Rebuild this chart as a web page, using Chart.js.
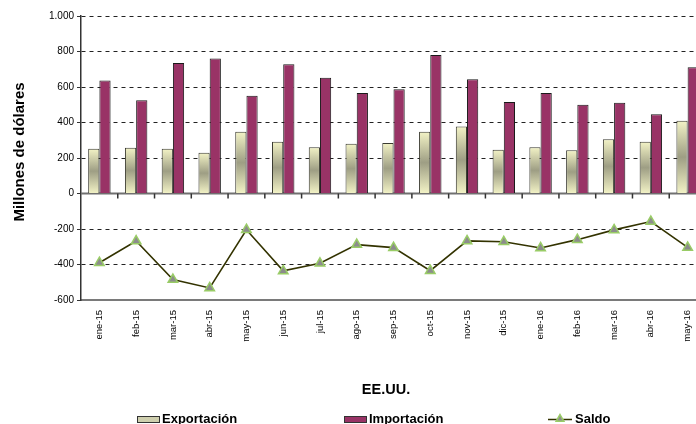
<!DOCTYPE html>
<html>
<head>
<meta charset="utf-8">
<script src="https://cdn.jsdelivr.net/npm/chart.js"></script>
<style>
html, body { margin: 0; padding: 0; overflow: hidden; background: #fff; }
</style>
</head>
<body>
<canvas id="grafico" width="720" height="424"></canvas>
<script>
var meses = ['ene-15', 'feb-15', 'mar-15', 'abr-15', 'may-15', 'jun-15', 'jul-15', 'ago-15', 'sep-15',
             'oct-15', 'nov-15', 'dic-15', 'ene-16', 'feb-16', 'mar-16', 'abr-16', 'may-16'];
var exportacion = [252, 258, 252, 229, 348, 291, 261, 280, 284, 348, 378, 246, 261, 243, 306, 291, 410];
var importacion = [637, 525, 735, 761, 551, 728, 652, 566, 588, 780, 643, 515, 566, 500, 511, 447, 711];
var saldo = [-390, -268, -485, -532, -204, -436, -393, -288, -305, -435, -267, -272, -307, -260, -205, -158, -304];
var ejeY = {min: -600, max: 1000, paso: 200};

var fuente = "'Liberation Sans', Arial, sans-serif";

function miles(v) {
    return String(v).replace(/\B(?=(\d{3})+(?!\d))/g, '.');
}

// relleno degradado de las barras de exportacion (claro - oscuro - claro)
function degradado(context) {
    if (context.type !== 'data' || !context.chart.chartArea) return '#cfcfae';
    var y = context.chart.scales.y;
    var arriba = y.getPixelForValue(context.raw);
    var base = y.getPixelForValue(0);
    var g = context.chart.ctx.createLinearGradient(0, arriba, 0, base);
    g.addColorStop(0, '#f3f3c6');
    g.addColorStop(0.5, '#9e9e84');
    g.addColorStop(1, '#f3f3c6');
    return g;
}

var extras = {
    id: 'extras',
    beforeDatasetsDraw: function(chart) {
        var ctx = chart.ctx, a = chart.chartArea, x = chart.scales.x, y = chart.scales.y;
        var y0 = y.getPixelForValue(0);
        ctx.save();
        ctx.strokeStyle = '#707070';
        ctx.lineWidth = 2;
        ctx.beginPath();
        ctx.moveTo(a.left, y0);
        ctx.lineTo(a.right, y0);
        ctx.stroke();
        var medio = (x.getPixelForValue(1) - x.getPixelForValue(0)) / 2;
        ctx.strokeStyle = '#333';
        ctx.lineWidth = 1.5;
        ctx.beginPath();
        for (var i = 0; i < meses.length; i++) {
            var px = x.getPixelForValue(i) + medio;
            ctx.moveTo(px, y0);
            ctx.lineTo(px, y0 + 5);
        }
        ctx.stroke();
        ctx.restore();
    },
    afterDraw: function(chart) {
        var ctx = chart.ctx;
        ctx.save();
        ctx.fillStyle = '#000';
        ctx.textBaseline = 'middle';

        // titulo del eje y
        ctx.save();
        ctx.translate(20, 152);
        ctx.rotate(-Math.PI / 2);
        ctx.textAlign = 'center';
        ctx.font = 'bold 15px ' + fuente;
        ctx.fillText('Millones de dólares', 0, 0);
        ctx.restore();

        ctx.textAlign = 'center';
        ctx.font = 'bold 14.5px ' + fuente;
        ctx.fillText('EE.UU.', 386, 390);

        // leyenda
        ctx.textAlign = 'left';
        ctx.font = 'bold 13px ' + fuente;
        ctx.lineWidth = 1;
        ctx.strokeStyle = '#333';
        ctx.fillStyle = '#cfcfae';
        ctx.fillRect(137.5, 416.5, 22, 6);
        ctx.strokeRect(137.5, 416.5, 22, 6);
        ctx.fillStyle = '#993366';
        ctx.fillRect(344.5, 416.5, 22, 6);
        ctx.strokeRect(344.5, 416.5, 22, 6);
        ctx.fillStyle = '#000';
        ctx.fillText(chart.data.datasets[0].label, 162, 419.5);
        ctx.fillText(chart.data.datasets[1].label, 369, 419.5);

        ctx.strokeStyle = '#333300';
        ctx.lineWidth = 1.5;
        ctx.beginPath();
        ctx.moveTo(548, 419.5);
        ctx.lineTo(572, 419.5);
        ctx.stroke();
        ctx.fillStyle = '#8c8c8c';
        ctx.strokeStyle = '#99cc66';
        Chart.helpers.drawPoint(ctx, {pointStyle: 'triangle', radius: 4.5, rotation: 0, borderWidth: 1.2}, 560, 419);
        ctx.fillStyle = '#000';
        ctx.fillText(chart.data.datasets[2].label, 575, 419.5);
        ctx.restore();
    }
};

new Chart(document.getElementById('grafico'), {
    data: {
        labels: meses,
        datasets: [{
            type: 'bar',
            label: 'Exportación',
            data: exportacion,
            backgroundColor: degradado,
            borderColor: '#3a3a30',
            borderWidth: 1,
            categoryPercentage: 0.61,
            barPercentage: 1,
            order: 2
        }, {
            type: 'bar',
            label: 'Importación',
            data: importacion,
            backgroundColor: '#993366',
            borderColor: '#1a1a1a',
            borderWidth: 1,
            categoryPercentage: 0.61,
            barPercentage: 1,
            order: 2
        }, {
            type: 'line',
            label: 'Saldo',
            data: saldo,
            borderColor: '#333300',
            borderWidth: 1.6,
            pointStyle: 'triangle',
            pointRadius: 5.5,
            pointBackgroundColor: '#8c8c8c',
            pointBorderColor: '#99cc66',
            pointBorderWidth: 1.5,
            tension: 0,
            fill: false,
            order: 1
        }]
    },
    options: {
        responsive: false,
        animation: false,
        devicePixelRatio: 1,
        layout: {padding: {top: 16, right: 14, bottom: 0, left: 0}},
        plugins: {
            legend: {display: false},
            title: {display: false},
            tooltip: {enabled: false}
        },
        scales: {
            x: {
                offset: true,
                grid: {display: false},
                border: {display: true, color: '#7a7a7a', width: 2},
                ticks: {
                    autoSkip: false,
                    minRotation: 90,
                    maxRotation: 90,
                    padding: 2,
                    color: '#000',
                    font: {family: fuente, size: 9.5}
                },
                afterFit: function(scale) { scale.height = 124; }
            },
            y: {
                min: ejeY.min,
                max: ejeY.max,
                grid: {
                    color: function(c) {
                        return (c.tick && (c.tick.value === 0 || c.tick.value === ejeY.min)) ? 'rgba(0,0,0,0)' : '#222';
                    },
                    lineWidth: 1,
                    tickColor: '#333',
                    tickLength: 4
                },
                border: {display: true, color: '#333', width: 1.5, dash: [4, 4]},
                ticks: {
                    stepSize: ejeY.paso,
                    padding: 3,
                    color: '#000',
                    font: {family: fuente, size: 10},
                    callback: function(v) { return miles(v); }
                },
                afterFit: function(scale) { scale.width = 81; }
            }
        }
    },
    plugins: [extras]
});
</script>
</body>
</html>
